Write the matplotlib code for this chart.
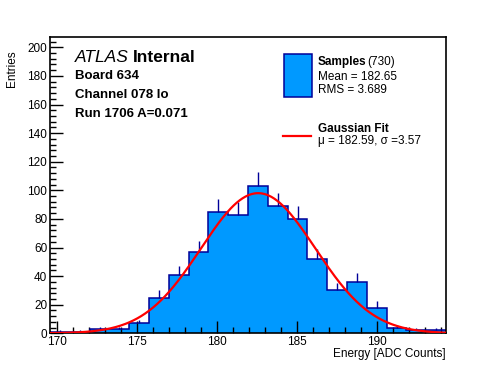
import numpy as np
import matplotlib
matplotlib.use("Agg")
import matplotlib.pyplot as plt
from matplotlib.ticker import MultipleLocator

plt.rcParams['font.family'] = ['Liberation Sans', 'DejaVu Sans']

# histogram: 20 bins between 169.58 and 194.33
x_lo = 169.58
x_hi = 194.33
counts = [1, 1, 3, 3, 7, 25, 41, 57, 85, 83, 103, 89, 80, 52, 30, 36, 18, 4, 2, 2]
n_samples = 730
mean = 182.65
rms = 3.689

# gaussian fit
fit_mu = 182.59
fit_sigma = 3.57
fit_amp = 98.0

edges = np.linspace(x_lo, x_hi, len(counts) + 1)
centers = 0.5 * (edges[:-1] + edges[1:])
counts = np.array(counts)

fig = plt.figure(figsize=(4.96, 3.72), dpi=100)
ax = fig.add_axes([50/496, 38.7/372, 396/496, 296/372])

fill_col = '#0099ff'
edge_col = '#000099'
ax.stairs(counts, edges, fill=True, color=fill_col, zorder=1)
ax.stairs(counts, edges, color=edge_col, lw=1.1, zorder=2)
# only the upper half of the error bar shows above the filled bars
ax.vlines(centers, counts, counts + np.sqrt(counts), color=edge_col, lw=1.0, zorder=2)

xs = np.linspace(x_lo, x_hi, 400)
ax.plot(xs, fit_amp * np.exp(-0.5 * ((xs - fit_mu) / fit_sigma) ** 2),
        color='red', lw=1.6, zorder=3)

ax.set_xlim(x_lo, x_hi)
ax.set_ylim(0, 207)
ax.xaxis.set_major_locator(MultipleLocator(5))
ax.xaxis.set_minor_locator(MultipleLocator(1))
ax.yaxis.set_major_locator(MultipleLocator(20))
ax.yaxis.set_minor_locator(MultipleLocator(4))
ax.tick_params(which='both', direction='in', top=False, right=False,
               labelsize=8.5, pad=2, width=1)
ax.tick_params(which='major', length=9)
ax.tick_params(which='minor', length=4.5)
for s in ax.spines.values():
    s.set_linewidth(1.2)

fig.text(12/496, 1 - 50/372, 'Entries', rotation=90, ha='center', va='top', fontsize=8.5)
fig.text(446/496, 1 - 354/372, 'Energy [ADC Counts]', ha='right', va='center', fontsize=8.5)

# labels on the left
fig.text(75/496, 1 - 58/372, 'ATLAS', style='italic', fontsize=12.5, va='center')
fig.text(133/496, 1 - 58/372, 'Internal', weight='bold', fontsize=12.5, va='center')
fig.text(75/496, 1 - 76/372, 'Board 634', weight='bold', fontsize=9.5, va='center')
fig.text(75/496, 1 - 95/372, 'Channel 078 lo', weight='bold', fontsize=9.5, va='center')
fig.text(75/496, 1 - 114/372, 'Run 1706 A=0.071', weight='bold', fontsize=9.5, va='center')

# legend
ax_leg = fig.add_axes([0, 0, 1, 1], facecolor='none')
ax_leg.set_xlim(0, 496)
ax_leg.set_ylim(372, 0)
ax_leg.axis('off')
ax_leg.add_patch(plt.Rectangle((283.5, 53.5), 28, 43, facecolor=fill_col,
                               edgecolor=edge_col, lw=1.1))
ax_leg.plot([283, 311], [136, 136], color='red', lw=1.6)
ax_leg.text(318, 62, 'Samples', weight='bold', fontsize=8.5, va='center')
ax_leg.text(367.5, 62, '(%d)' % n_samples, fontsize=8.5, va='center')
ax_leg.text(318, 77.5, 'Mean = %.2f' % mean, fontsize=8.5, va='center')
ax_leg.text(318, 90, 'RMS = %.3f' % rms, fontsize=8.5, va='center')
ax_leg.text(318, 129.5, 'Gaussian Fit', weight='bold', fontsize=8.5, va='center')
ax_leg.text(318, 141, '\u03bc = %.2f, \u03c3 =%.2f' % (fit_mu, fit_sigma), fontsize=8.5,
            va='center')

fig.savefig('out.png', dpi=100)
